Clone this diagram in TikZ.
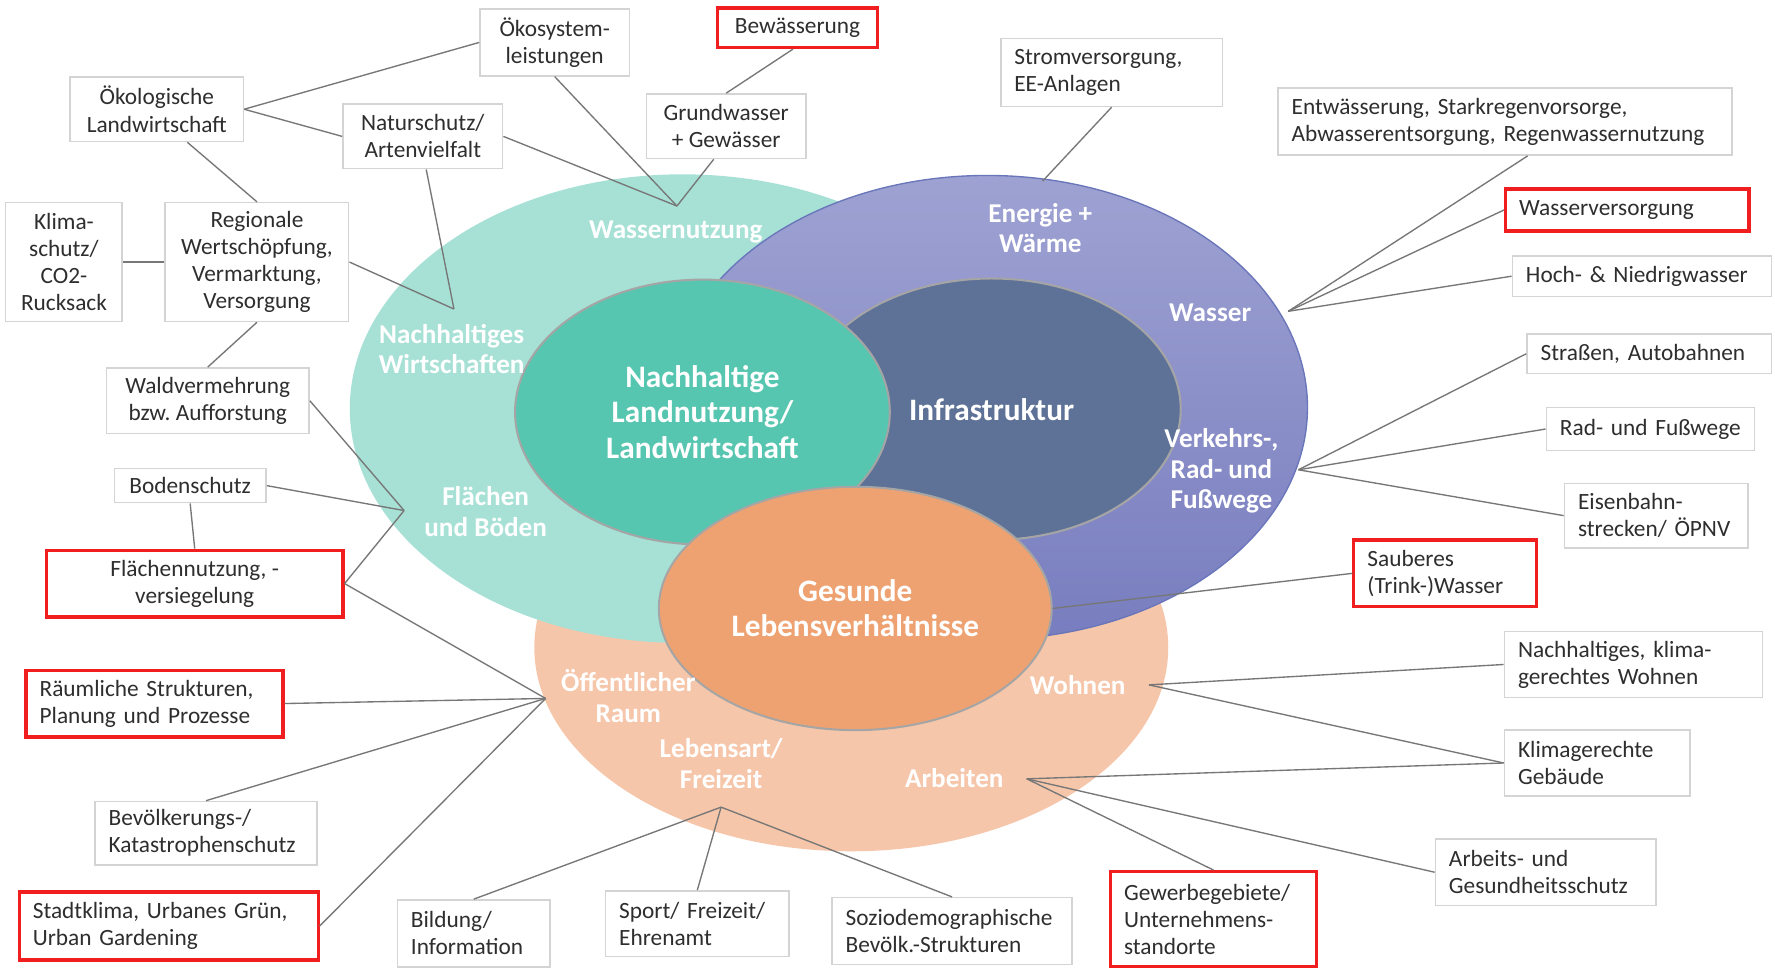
\documentclass[tikz,border=0pt]{standalone}
\usepackage{fontspec}
\setmainfont{Carlito}
\usetikzlibrary{calc,shapes.geometric}
\frenchspacing

\definecolor{tealout}{HTML}{A7E1D6}
\definecolor{purtop}{HTML}{9EA2D2}
\definecolor{purbot}{HTML}{787DBF}
\definecolor{purpleedge}{HTML}{6A76BA}
\definecolor{peach}{HTML}{F6C6AA}
\definecolor{tealin}{HTML}{57C6B0}
\definecolor{infra}{HTML}{5E7196}
\definecolor{gesundc}{HTML}{EFA271}
\definecolor{innerline}{HTML}{A5A5A5}
\definecolor{boxgrey}{HTML}{D4D4D4}
\definecolor{hotred}{HTML}{F01E1E}
\definecolor{linkgrey}{HTML}{777777}
\definecolor{textgrey}{HTML}{2E2E2E}

\begin{document}
\begin{tikzpicture}[x=0.5pt,y=-0.5pt,
  box/.style={draw=boxgrey, line width=0.7pt, fill=white, inner sep=0pt,
    text=textgrey, font=\fontsize{10.3}{12}\selectfont},
  cbox/.style 2 args={box, minimum width=#1*0.5pt, minimum height=#2*0.5pt, align=center},
  lbox/.style 2 args={box, minimum width=#1*0.5pt, minimum height=#2*0.5pt,
    text width=#1*0.5pt-12pt, align=left},
  hot/.style={draw=hotred, line width=1.4pt},
  link/.style={draw=linkgrey, line width=0.6pt},
  ring/.style={ellipse, inner sep=0pt},
  core/.style={ring, draw=innerline, line width=0.9pt, text=white,
    font=\bfseries\fontsize{13.8}{15.5}\selectfont, align=center},
  lab/.style={text=white, font=\bfseries\fontsize{12}{13.5}\selectfont,
    align=center, inner sep=0pt},
]
\useasboundingbox (0,0) rectangle (1568,855);
\fill[white] (0,0) rectangle (1568,855);

% outer rings
\node[ring, fill=peach, minimum width=280pt, minimum height=180pt] (lebenO) at (752,572) {};
\node[ring, fill=tealout, minimum width=294pt, minimum height=207pt] (landO) at (603,361) {};
\node[ring, draw=purpleedge, line width=0.6pt, top color=purtop, bottom color=purbot,
  minimum width=283pt, minimum height=205pt] (infraO) at (872,360) {};

% core topics
\node[core, fill=infra, minimum width=167pt, minimum height=115.5pt] (infrastr) at (876,361.5) {Infrastruktur};
\node[core, fill=tealin, minimum width=165.5pt, minimum height=117pt] (landnutz) at (620.5,364) {Nachhaltige\\Landnutzung/\\Landwirtschaft};
\node[core, fill=gesundc, minimum width=173.5pt, minimum height=107.5pt] (gesund) at (755.5,537.5) {Gesunde\\Lebensverhältnisse};

% ring labels
\node[lab] (lWn) at (597,205) {Wassernutzung};
\node[lab] (lEn) at (919,201.5) {Energie +\\Wärme};
\node[lab] (lWa) at (1069,276) {Wasser};
\node[lab] (lNw) at (399,308.5) {Nachhaltiges\\Wirtschaften};
\node[lab] (lVk) at (1079,416) {Verkehrs-,\\Rad- und\\Fußwege};
\node[lab] (lFb) at (429,452) {Flächen\\und Böden};
\node[lab] (lOr) at (555,615) {Öffentlicher\\Raum};
\node[lab] (lWo) at (952,605) {Wohnen};
\node[lab] (lLf) at (637,674.5) {Lebensart/\\Freizeit};
\node[lab] (lAr) at (843,687) {Arbeiten};

% junction points of the connectors
\coordinate (hWn) at (598,182);
\coordinate (hNw) at (401,273);
\coordinate (hFb) at (357,451);
\coordinate (hOr) at (482,617);
\coordinate (hLf) at (637,713);
\coordinate (hAr) at (907,688);
\coordinate (hWo) at (1015,605);
\coordinate (hVk) at (1147,415);
\coordinate (hWa) at (1138,275);
\coordinate (hEn) at (921,160);

% topic boxes
\node[cbox={132}{59}] (oekosys) at (490,37.5) {Ökosystem-\\leistungen};
\node[cbox={141}{35}, hot] (bewaes) at (704.5,24.5) {Bewässerung};
\node[cbox={153}{57}] (oeklw) at (138.5,96.5) {Ökologische\\Landwirtschaft};
\node[cbox={141}{57}] (natur) at (373.5,120.5) {Naturschutz/\\Artenvielfalt};
\node[cbox={141}{57}] (grundw) at (641.5,111.5) {Grundwasser\\+ Gewässer};
\node[lbox={196}{60}] (strom) at (982,64) {Stromversorgung,\\EE-Anlagen};
\node[lbox={401}{59}] (entw) at (1329.5,107.5) {Entwässerung, Starkregenvorsorge,\\Abwasserentsorgung, Regenwassernutzung};
\node[lbox={215}{37}, hot] (wasserv) at (1437.5,185.5) {Wasserversorgung};
\node[lbox={229}{36}] (hoch) at (1450.5,244) {Hoch-~\&~Niedrigwasser};
\node[cbox={103}{105}] (klima) at (56.5,231.5) {Klima-\\schutz/\\CO2-\\Rucksack};
\node[cbox={162}{105}] (region) at (227,231.5) {Regionale\\Wertschöpfung,\\Vermarktung,\\Versorgung};
\node[cbox={179}{58}] (wald) at (183.5,354) {Waldvermehrung\\bzw. Aufforstung};
\node[cbox={134}{30}] (boden) at (168,429) {Bodenschutz};
\node[cbox={262}{59}, hot] (flaech) at (172,515.5) {Flächennutzung, -\\versiegelung};
\node[lbox={227}{59}, hot] (raeuml) at (136.5,621.5) {Räumliche~Strukturen,\\Planung~und~Prozesse};
\node[lbox={196}{56}] (bevoelk) at (182,736) {Bevölkerungs-/\\Katastrophenschutz};
\node[lbox={264}{60}, hot] (stadtkl) at (149,818) {Stadtklima,~Urbanes~Grün,\\Urban~Gardening};
\node[lbox={135}{59}] (bildung) at (418.5,824.5) {Bildung/\\Information};
\node[lbox={162}{58}] (sport) at (616,816) {Sport/~Freizeit/\\Ehrenamt};
\node[lbox={212}{59}] (sozio) at (841,822.5) {Soziodemographische\\Bevölk.-Strukturen};
\node[lbox={182}{84}, hot] (gewerbe) at (1072,812) {Gewerbegebiete/\\Unternehmens-\\standorte};
\node[lbox={216}{35}] (strassen) at (1457,312.5) {Straßen,~Autobahnen};
\node[lbox={184}{38}] (rad) at (1458,379) {Rad-~und~Fußwege};
\node[lbox={162}{57}] (eisen) at (1463,455.5) {Eisenbahn-\\strecken/~ÖPNV};
\node[lbox={161}{59}, hot] (sauber) at (1276.5,506.5) {Sauberes\\(Trink-)Wasser};
\node[lbox={228}{58}] (nwohnen) at (1443,587) {Nachhaltiges,~klima-\\gerechtes~Wohnen};
\node[lbox={164}{58}] (kgeb) at (1411,674) {Klimagerechte\\Gebäude};
\node[lbox={195}{59}] (arbeits) at (1365.5,770.5) {Arbeits-~und\\Gesundheitsschutz};

% connectors
\draw[link] (oeklw.east) -- (oekosys.west);
\draw[link] (oeklw.east) -- (natur.west);
\draw[link] ($(oeklw.south)+(27,0)$) -- (region.north);
\draw[link] (oekosys.south) -- (hWn);
\draw[link] (natur.east) -- (hWn);
\draw[link] ($(grundw.south)+(-11,0)$) -- (hWn);
\draw[link] ($(bewaes.south)+(-4,0)$) -- (grundw.north);
\draw[link] ($(natur.south)+(3,0)$) -- (hNw);
\draw[link] (region.east) -- (hNw);
\draw[link] (klima.east) -- (region.west);
\draw[link] (region.south) -- (wald.north);
\draw[link] (wald.east) -- (hFb);
\draw[link] (boden.east) -- (hFb);
\draw[link] (boden.south) -- (flaech.north);
\draw[link] (flaech.east) -- (hFb);
\draw[link] (flaech.east) -- (hOr);
\draw[link] (raeuml.east) -- (hOr);
\draw[link] (bevoelk.north) -- (hOr);
\draw[link] (stadtkl.east) -- (hOr);
\draw[link] (bildung.north) -- (hLf);
\draw[link] (sport.north) -- (hLf);
\draw[link] (sozio.north) -- (hLf);
\draw[link] (strom.south) -- (hEn);
\draw[link] ($(entw.south)+(20,0)$) -- (hWa);
\draw[link] (wasserv.west) -- (hWa);
\draw[link] (hoch.west) -- (hWa);
\draw[link] (strassen.west) -- (hVk);
\draw[link] (rad.west) -- (hVk);
\draw[link] (eisen.west) -- (hVk);
\draw[link] (sauber.west) -- (gesund.east);
\draw[link] (nwohnen.west) -- (hWo);
\draw[link] (kgeb.west) -- (hWo);
\draw[link] (kgeb.west) -- (hAr);
\draw[link] (arbeits.west) -- (hAr);
\draw[link] (gewerbe.north) -- (hAr);
\end{tikzpicture}
\end{document}
